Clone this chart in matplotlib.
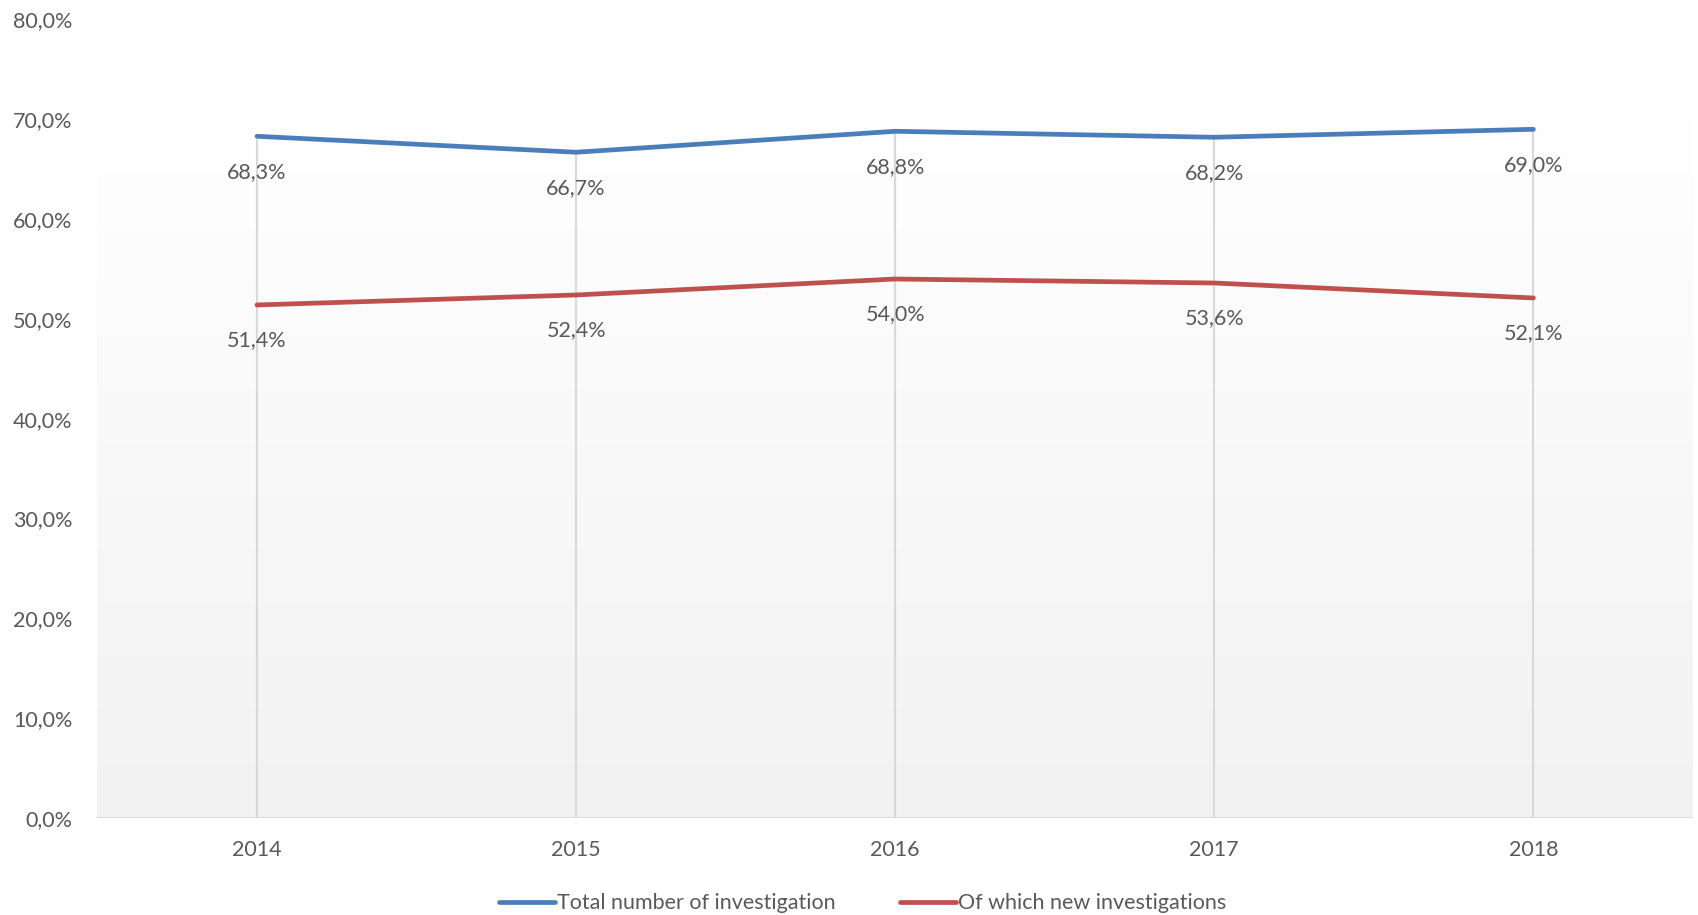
import numpy as np
import matplotlib.pyplot as plt
from matplotlib.colors import LinearSegmentedColormap

years = ["2014", "2015", "2016", "2017", "2018"]
total = [68.3, 66.7, 68.8, 68.2, 69.0]
new = [51.4, 52.4, 54.0, 53.6, 52.1]
series_names = ["Total number of investigation", "Of which new investigations"]
colors = ["#4a7ebb", "#c0504d"]

plt.rcParams['font.family'] = ['Lato', 'DejaVu Sans']
txt = "#595959"
fs = 15.5

fig = plt.figure(figsize=(16.98, 9.15), dpi=100)
ax = fig.add_axes([0.0574, 0.106, 0.9396, 0.8727])
ax.set_facecolor("none")

x = np.arange(len(years))
ax.set_xlim(-0.5, len(years) - 0.5)
ax.set_ylim(0, 80)

# gradient plot area (white at top -> light grey at bottom)
cmap = LinearSegmentedColormap.from_list("bg", ["#f2f2f2", "#ffffff"])
grad = np.linspace(0, 1, 256).reshape(-1, 1)
ax.imshow(grad, cmap=cmap, origin="lower", aspect="auto",
          extent=(-0.5, len(years) - 0.5, 0, 70), zorder=0)

# drop lines
tops = np.maximum(total, new)
ax.vlines(x, 0, tops, color="#d9d9d9", lw=1.5, zorder=1)
ax.axhline(0, color="#d9d9d9", lw=2, zorder=1)

for vals, name, c in zip([total, new], series_names, colors):
    ax.plot(x, vals, color=c, lw=3.4, solid_capstyle="round", label=name, zorder=3)
    for xi, v in zip(x, vals):
        ax.annotate(f"{v:.1f}%".replace(".", ","), (xi, v), xytext=(0, -25.5),
                    textcoords="offset points", ha="center", va="center",
                    fontsize=fs, color=txt, zorder=4)

ax.set_xticks(x)
ax.set_xticklabels(years)
ax.set_yticks(np.arange(0, 81, 10))
ax.set_yticklabels([f"{v:.1f}%".replace(".", ",") for v in np.arange(0, 81, 10)])
ax.tick_params(axis="both", length=0, labelsize=fs, labelcolor=txt)
ax.tick_params(axis="y", pad=18)
ax.tick_params(axis="x", pad=16)
for s in ax.spines.values():
    s.set_visible(False)

fig.legend(loc="center", bbox_to_anchor=(0.508, 0.013), ncol=2, frameon=False,
           fontsize=fs, labelcolor=txt, handlelength=2.6, handletextpad=0.1,
           columnspacing=3.0)

fig.savefig("out.png", dpi=100)
